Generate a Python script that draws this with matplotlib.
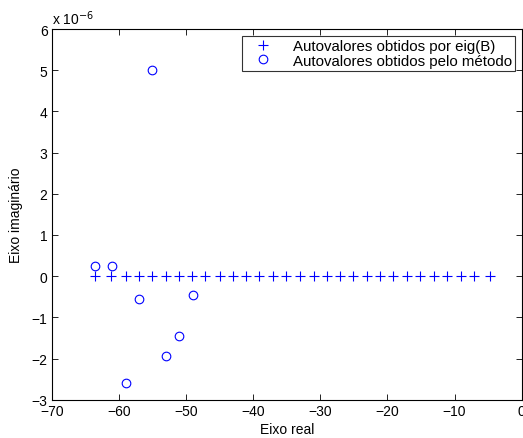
import matplotlib
matplotlib.use("Agg")
import matplotlib.pyplot as plt
from matplotlib.ticker import FuncFormatter

# eigenvalues from eig(B): real parts, imaginary parts are zero
eig_real = [-63.5, -61.1, -59.0, -57.0, -55.0, -53.0, -51.0, -49.1, -47.1, -45.0,
            -43.0, -41.1, -39.1, -37.1, -35.1, -33.0, -31.0, -29.0, -27.1, -25.1,
            -23.1, -21.1, -19.1, -17.1, -15.1, -13.1, -11.1, -9.1, -7.1, -4.7]
eig_imag = [0.0] * len(eig_real)

# eigenvalues obtained by the method
met_real = [-63.5, -61.0, -59.0, -57.0, -55.0, -53.0, -51.0, -49.0]
met_imag = [0.24e-6, 0.25e-6, -2.60e-6, -0.56e-6, 5.0e-6, -1.95e-6, -1.46e-6, -0.46e-6]

plt.rcParams["font.family"] = ["Liberation Sans", "DejaVu Sans"]
FS = 10

fig = plt.figure(figsize=(5.23, 4.39), dpi=100)
ax = fig.add_axes([0.0989, 0.0872, 0.8987, 0.8444])

ax.plot(eig_real, eig_imag, "+", color="blue", markersize=6.5, markeredgewidth=0.8,
        label="Autovalores obtidos por eig(B)")
ax.plot(met_real, met_imag, "o", color="blue", markerfacecolor="none",
        markersize=6.2, markeredgewidth=0.8,
        label="Autovalores obtidos pelo método")

ax.set_xlim(-70, 0)
ax.set_ylim(-3e-6, 6e-6)
ax.set_xticks(range(-70, 1, 10))
ax.set_yticks([v * 1e-6 for v in range(-3, 7)])
ax.yaxis.set_major_formatter(FuncFormatter(lambda v, p: f"{round(v * 1e6):d}".replace("-", "\u2212")))
ax.xaxis.set_major_formatter(FuncFormatter(lambda v, p: f"{int(round(v))}".replace("-", "\u2212")))

ax.tick_params(direction="in", top=True, right=True, length=4, width=0.6,
               labelsize=FS, pad=3)
for s in ax.spines.values():
    s.set_linewidth(0.8)

ax.set_xlabel("Eixo real", fontsize=FS, labelpad=3)
ax.set_ylabel("Eixo imaginário", fontsize=FS, labelpad=6)

fig.text(0.0994, 0.943, r"x 10$^{-6}$", fontsize=FS, ha="left", va="baseline")

leg = ax.legend(loc="upper right", fontsize=10.8, frameon=True, fancybox=False,
                borderaxespad=0.45, handletextpad=0.8, borderpad=0.2,
                labelspacing=0.05, handlelength=2.4)
leg.get_frame().set_edgecolor("black")
leg.get_frame().set_linewidth(0.8)

fig.savefig("out.png", dpi=100)
